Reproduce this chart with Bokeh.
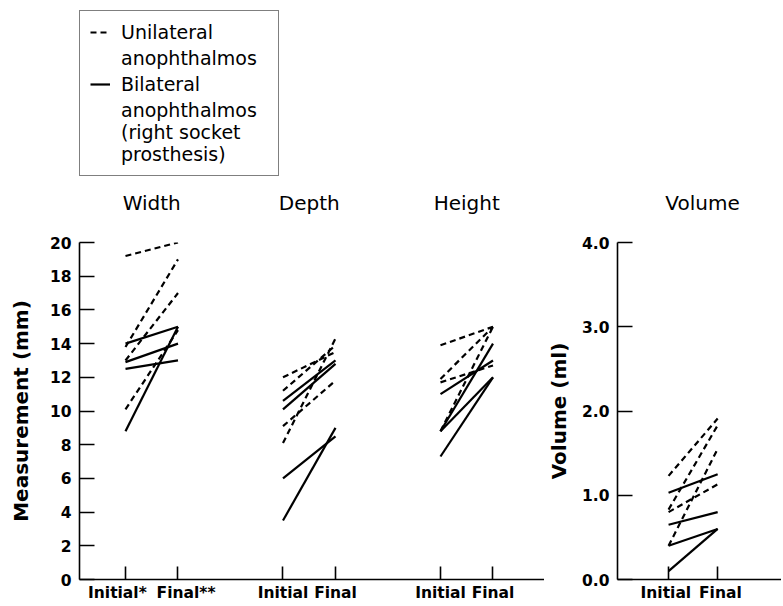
from bokeh.plotting import figure
from bokeh.models import Range1d, FixedTicker, Legend, LegendItem, Label
from bokeh.layouts import row, column
from bokeh.embed import file_html
from bokeh.resources import INLINE

# ---------------- data ----------------
panels = ["Width", "Depth", "Height"]
panel_x = [1, 4, 7]                     # initial position of each group (final = +1)
NB = "\u00a0\u00a0\u00a0"
x_tick_labels_left = ["Initial*" + NB, NB + "Final**", "Initial", "Final", "Initial", "Final"]
x_tick_labels_right = ["Initial\u00a0", "\u00a0Final"]

width_uni_initial = [19.2, 13.8, 13.0, 10.1]
width_uni_final = [20.0, 19.0, 17.0, 14.8]
width_bi_initial = [14.0, 12.9, 12.5, 8.8]
width_bi_final = [15.0, 14.0, 13.0, 15.0]

depth_uni_initial = [12.0, 11.2, 9.1, 8.1]
depth_uni_final = [13.5, 13.9, 11.8, 14.3]
depth_bi_initial = [10.6, 10.1, 6.0, 3.5]
depth_bi_final = [13.0, 12.8, 8.5, 9.0]

height_uni_initial = [13.9, 11.9, 11.7, 8.8]
height_uni_final = [15.0, 15.0, 12.7, 15.0]
height_bi_initial = [11.0, 8.8, 8.8, 7.3]
height_bi_final = [13.0, 14.0, 12.0, 12.0]

vol_uni_initial = [1.23, 0.83, 0.80, 0.40]
vol_uni_final = [1.91, 1.83, 1.13, 1.55]
vol_bi_initial = [1.03, 0.65, 0.40, 0.10]
vol_bi_final = [1.25, 0.80, 0.60, 0.60]

mm_ticks = [0, 2, 4, 6, 8, 10, 12, 14, 16, 18, 20]
vol_ticks = [0, 1, 2, 3, 4]
vol_tick_labels = ["0.0", "1.0", "2.0", "3.0", "4.0"]

legend_uni = ["Unilateral", "anophthalmos"]
legend_bi = ["Bilateral", "anophthalmos\n(right socket\nprosthesis)"]

FONT = "DejaVu Sans"
DASH = "6 4"
LW = 2.2


def style_axes(p):
    for ax in (p.xaxis[0], p.yaxis[0]):
        ax.axis_line_width = 1.6
        ax.major_tick_line_width = 1.6
        ax.minor_tick_line_color = None
        ax.major_tick_out = 0
        ax.major_label_text_font = FONT
        ax.major_label_text_font_style = "bold"
        ax.major_label_text_font_size = "15.5px"
        ax.major_label_text_color = "black"
        ax.axis_label_text_font = FONT
        ax.axis_label_text_font_style = "bold"
        ax.axis_label_text_font_size = "20px"
        ax.axis_label_text_color = "black"
    p.yaxis[0].major_tick_in = 15
    p.xaxis[0].major_tick_in = 13
    p.xaxis[0].major_label_standoff = 4
    p.yaxis[0].major_label_standoff = 8
    p.xgrid.visible = False
    p.ygrid.visible = False
    p.outline_line_color = None


def blank(p):
    p.xgrid.visible = False
    p.ygrid.visible = False
    p.outline_line_color = None


def segs(x0, ini, fin):
    xs = [[x0, x0 + 1] for _ in ini]
    ys = [[a, b] for a, b in zip(ini, fin)]
    return xs, ys


TOP_H = 232
BOT_H = 372
LEFT_W = 544
RIGHT_W = 237

# ---------------- bottom-left figure (Width / Depth / Height) ----------------
left = figure(width=LEFT_W, height=BOT_H, x_range=Range1d(0.124, 8.981), y_range=Range1d(0, 20),
              output_backend="svg", toolbar_location=None,
              min_border_left=79, min_border_right=0, min_border_top=10, min_border_bottom=25)
style_axes(left)
left.yaxis[0].ticker = FixedTicker(ticks=mm_ticks)
left.yaxis[0].axis_label = "Measurement (mm)"
left.yaxis[0].axis_label_standoff = 14
left_ticks = []
for x0 in panel_x:
    left_ticks += [x0, x0 + 1]
left.xaxis[0].ticker = FixedTicker(ticks=left_ticks)
left.xaxis[0].major_label_overrides = {t: lab for t, lab in zip(left_ticks, x_tick_labels_left)}

uni_sets = [(width_uni_initial, width_uni_final), (depth_uni_initial, depth_uni_final),
            (height_uni_initial, height_uni_final)]
bi_sets = [(width_bi_initial, width_bi_final), (depth_bi_initial, depth_bi_final),
           (height_bi_initial, height_bi_final)]

uxs, uys, bxs, bys = [], [], [], []
for x0, (ini, fin) in zip(panel_x, uni_sets):
    a, b = segs(x0, ini, fin)
    uxs += a
    uys += b
for x0, (ini, fin) in zip(panel_x, bi_sets):
    a, b = segs(x0, ini, fin)
    bxs += a
    bys += b

left.multi_line(bxs, bys, line_color="black", line_width=LW)
left.multi_line(uxs, uys, line_color="black", line_width=LW, line_dash=DASH)

# ---------------- bottom-right figure (Volume) ----------------
right = figure(width=RIGHT_W, height=BOT_H, x_range=Range1d(-0.04, 3.30), y_range=Range1d(0, 4),
               output_backend="svg", toolbar_location=None,
               min_border_left=70, min_border_right=0, min_border_top=10, min_border_bottom=25)
style_axes(right)
right.yaxis[0].ticker = FixedTicker(ticks=vol_ticks)
right.yaxis[0].major_label_overrides = {t: lab for t, lab in zip(vol_ticks, vol_tick_labels)}
right.yaxis[0].axis_label = "Volume (ml)"
right.yaxis[0].axis_label_standoff = 8
right.xaxis[0].ticker = FixedTicker(ticks=[1, 2])
right.xaxis[0].major_label_overrides = {1: x_tick_labels_right[0], 2: x_tick_labels_right[1]}

vx_b, vy_b = segs(1, vol_bi_initial, vol_bi_final)
vx_u, vy_u = segs(1, vol_uni_initial, vol_uni_final)
right.multi_line(vx_b, vy_b, line_color="black", line_width=LW)
right.multi_line(vx_u, vy_u, line_color="black", line_width=LW, line_dash=DASH)

# ---------------- top strip: legend and panel titles ----------------
top_left = figure(width=LEFT_W, height=TOP_H, x_range=left.x_range, y_range=Range1d(0, 1),
                  output_backend="svg", toolbar_location=None,
                  x_axis_location=None, y_axis_location=None,
                  min_border_left=79, min_border_right=0, min_border_top=0, min_border_bottom=0)
blank(top_left)
# legend keys (not drawn in the plot, only referenced by the legend)
k_uni = top_left.multi_line(uxs, uys, line_color="black", line_width=LW, line_dash=DASH, visible=False)
k_bi = top_left.multi_line(bxs, bys, line_color="black", line_width=LW, visible=False)
k_none = top_left.multi_line(bxs, bys, line_color="black", line_alpha=0, visible=False)

for name, x0 in zip(panels, panel_x):
    top_left.add_layout(Label(x=x0 + 0.5, y=30, x_units="data", y_units="screen", text=name,
                              text_align="center", text_baseline="middle",
                              text_font=FONT, text_font_size="20px", text_color="black"))

legend = Legend(items=[LegendItem(label=legend_uni[0], renderers=[k_uni]),
                       LegendItem(label=legend_uni[1], renderers=[k_none]),
                       LegendItem(label=legend_bi[0], renderers=[k_bi]),
                       LegendItem(label=legend_bi[1], renderers=[k_none])],
                location=(0, 56), orientation="vertical",
                label_text_font=FONT, label_text_font_size="19px", label_text_color="black",
                glyph_width=20, glyph_height=14, label_width=147, label_height=14,
                label_standoff=11, padding=10, spacing=4, margin=0,
                border_line_color="black", border_line_width=1.6,
                background_fill_color="white", background_fill_alpha=1.0)
top_left.add_layout(legend)

top_right = figure(width=RIGHT_W, height=TOP_H, x_range=right.x_range, y_range=Range1d(0, 1),
                   output_backend="svg", toolbar_location=None,
                   x_axis_location=None, y_axis_location=None,
                   min_border_left=70, min_border_right=0, min_border_top=0, min_border_bottom=0)
blank(top_right)
top_right.add_layout(Label(x=1.5, y=30, x_units="data", y_units="screen", text="Volume", x_offset=11,
                           text_align="center", text_baseline="middle",
                           text_font=FONT, text_font_size="20px", text_color="black"))

layout = column(row(top_left, top_right, spacing=0), row(left, right, spacing=0), spacing=0)
open("out.html", "w").write(file_html(layout, INLINE))
